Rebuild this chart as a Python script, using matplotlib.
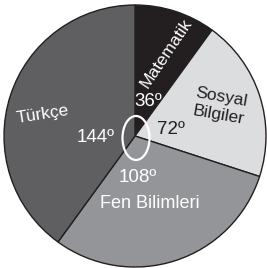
import matplotlib.pyplot as plt
from matplotlib.patches import Ellipse

# pie data (degrees), clockwise from the top
subjects = ['Matematik', 'Sosyal\nBilgiler', 'Fen Bilimleri', 'Türkçe']
degrees = [36, 72, 108, 144]
colors = ['#231f20', '#dcdddf', '#939598', '#5f5f61']
degree_labels = ['36º', '72º', '108º', '144º']

W, H = 267, 268
fig = plt.figure(figsize=(W / 100, H / 100), dpi=100)
ax = fig.add_axes([0, 0, 1, 1])

cx, cy, r = 135, H - 136, 131
ax.pie(degrees, colors=colors, startangle=90, counterclock=False,
       center=(cx, cy), radius=r, frame=True,
       wedgeprops=dict(edgecolor='#231f20', linewidth=1.0))
ax.set_xlim(0, W)
ax.set_ylim(0, H)
ax.axis('off')

font = 'Liberation Sans'

# text positions given in image pixels (y down)
def put(x, y, s, color, size, rot=0, ls=1.0):
    ax.text(x, H - y, s, color=color, fontsize=size, rotation=rot,
            ha='center', va='center', family=font, linespacing=ls,
            rotation_mode='anchor')

put(166, 53, subjects[0], 'white', 12.5, rot=56)
put(220, 106, subjects[1], '#231f20', 12.5, rot=-10, ls=1.25)
put(150, 203, subjects[2], 'white', 13)
put(43, 114, subjects[3], 'white', 12.5, rot=9)

put(148, 102, degree_labels[0], 'white', 13.5)
put(171, 130, degree_labels[1], '#231f20', 13.5)
put(138, 177, degree_labels[2], 'white', 13.5)
put(96, 137, degree_labels[3], 'white', 13.5)

ax.add_patch(Ellipse((136, H - 138), 27, 44, fill=False,
                     edgecolor='white', linewidth=1.6))

fig.savefig('out.png', dpi=100)
